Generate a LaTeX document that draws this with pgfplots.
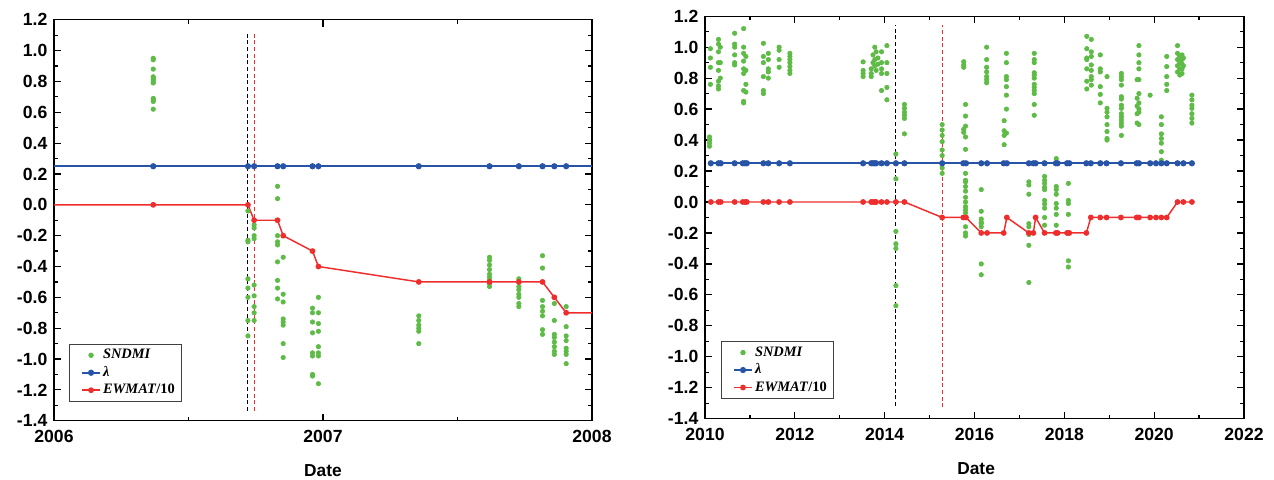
\documentclass[border=0pt]{standalone}
\usepackage{fontspec}
\setmainfont{Liberation Sans}
\newfontfamily\timesf{Liberation Serif}
\usepackage{pgfplots}
\pgfplotsset{compat=1.18}
\definecolor{cgreen}{RGB}{93,187,70}
\definecolor{cblue}{RGB}{40,84,168}
\definecolor{cred}{RGB}{238,45,45}
\pgfplotsset{
  mystyle/.style={
    scale only axis,
    ymin=-1.4, ymax=1.2,
    ytick={-1.4,-1.2,-1.0,-0.8,-0.6,-0.4,-0.2,0,0.2,0.4,0.6,0.8,1.0,1.2},
    minor y tick num=1, minor x tick num=1,
    tick align=inside,
    major tick length=5.25pt, minor tick length=3pt,
    axis line style={line width=1pt},
    every tick/.style={black, line width=0.9pt},
    tick label style={font=\bfseries\fontsize{13.2}{15}\selectfont},
    x tick label style={yshift=-3.5pt},
    y tick label style={xshift=-1.5pt},
    yticklabel style={/pgf/number format/.cd, fixed, fixed zerofill, precision=1, assume math mode=true},
    xticklabel style={/pgf/number format/.cd, 1000 sep={}, assume math mode=true},
    xlabel={Date},
    xlabel style={font=\bfseries\fontsize{13}{15}\selectfont, anchor=center},
    legend cell align=left,
    legend style={anchor=north west, draw=black!75, line width=0.6pt,
      font=\timesf\bfseries\fontsize{10.8}{12}\selectfont,
      inner xsep=3pt, inner ysep=1.8pt, row sep=0pt,
      nodes={text height=7.5pt, text depth=2pt, inner sep=1.8pt}},
    legend image code/.code={\path (0pt,0pt); \draw[##1, mark indices={2}] plot coordinates {(6pt,0pt) (12.5pt,0pt) (19pt,0pt)};},
    clip=true,
  }
}
\begin{document}
\begin{tikzpicture}
\useasboundingbox (0,0) rectangle (955.5pt,359.25pt);
% ---------------- panel (a)
\begin{axis}[mystyle, at={(40.5pt,43.7pt)}, anchor=south west,
  width=403.5pt, height=300.75pt,
  xmin=2006, xmax=2008, xtick={2006,2007,2008},
  xlabel style={at={(axis description cs:0.5,-0.125)}},
  legend style={at={(0.028,0.192)}}]
\addplot[black, line width=0.8pt, dash pattern=on 3pt off 2pt, forget plot] coordinates {(2006.721,-1.337) (2006.721,1.125)};
\addplot[cred, line width=0.8pt, dash pattern=on 3pt off 2pt, forget plot] coordinates {(2006.744,-1.337) (2006.744,1.125)};
\addplot[only marks, mark=*, mark size=1.7pt, mark options={draw=cgreen, fill=cgreen}] table[row sep=\\] {
x y\\
2006.369 0.95\\ 2006.369 0.94\\ 2006.369 0.88\\ 2006.369 0.83\\ 2006.369 0.82\\ 2006.369 0.81\\ 2006.369 0.80\\ 2006.369 0.79\\ 2006.369 0.69\\ 2006.369 0.68\\ 2006.369 0.67\\ 2006.369 0.62\\
2006.721 -0.04\\ 2006.721 -0.23\\ 2006.721 -0.24\\ 2006.721 -0.48\\ 2006.721 -0.54\\ 2006.721 -0.60\\ 2006.721 -0.75\\ 2006.721 -0.85\\
2006.744 -0.13\\ 2006.744 -0.15\\ 2006.744 -0.20\\ 2006.744 -0.22\\ 2006.744 -0.52\\ 2006.744 -0.59\\ 2006.744 -0.66\\ 2006.744 -0.70\\ 2006.744 -0.75\\
2006.831 0.12\\ 2006.831 0.04\\ 2006.831 -0.20\\ 2006.831 -0.24\\ 2006.831 -0.26\\ 2006.831 -0.37\\ 2006.831 -0.49\\ 2006.831 -0.54\\ 2006.831 -0.61\\
2006.852 -0.34\\ 2006.852 -0.58\\ 2006.852 -0.63\\ 2006.852 -0.74\\ 2006.852 -0.76\\ 2006.852 -0.78\\ 2006.852 -0.90\\ 2006.852 -0.99\\
2006.961 -0.67\\ 2006.961 -0.70\\ 2006.961 -0.76\\ 2006.961 -0.83\\ 2006.961 -0.96\\ 2006.961 -0.98\\ 2006.961 -1.10\\ 2006.961 -1.11\\
2006.983 -0.60\\ 2006.983 -0.70\\ 2006.983 -0.77\\ 2006.983 -0.82\\ 2006.983 -0.92\\ 2006.983 -0.96\\ 2006.983 -0.98\\ 2006.983 -1.16\\
2007.356 -0.72\\ 2007.356 -0.75\\ 2007.356 -0.78\\ 2007.356 -0.80\\ 2007.356 -0.82\\ 2007.356 -0.90\\
2007.619 -0.34\\ 2007.619 -0.36\\ 2007.619 -0.39\\ 2007.619 -0.42\\ 2007.619 -0.45\\ 2007.619 -0.47\\ 2007.619 -0.49\\ 2007.619 -0.51\\ 2007.619 -0.53\\
2007.728 -0.48\\ 2007.728 -0.50\\ 2007.728 -0.53\\ 2007.728 -0.55\\ 2007.728 -0.58\\ 2007.728 -0.60\\ 2007.728 -0.64\\ 2007.728 -0.66\\
2007.816 -0.33\\ 2007.816 -0.41\\ 2007.816 -0.62\\ 2007.816 -0.66\\ 2007.816 -0.69\\ 2007.816 -0.72\\ 2007.816 -0.81\\ 2007.816 -0.84\\
2007.860 -0.64\\ 2007.860 -0.75\\ 2007.860 -0.84\\ 2007.860 -0.86\\ 2007.860 -0.89\\ 2007.860 -0.92\\ 2007.860 -0.95\\ 2007.860 -0.97\\
2007.904 -0.66\\ 2007.904 -0.79\\ 2007.904 -0.85\\ 2007.904 -0.88\\ 2007.904 -0.93\\ 2007.904 -0.95\\ 2007.904 -0.97\\ 2007.904 -1.03\\
};
\addlegendentry{\itshape SNDMI}
\addplot[cblue, line width=1.4pt, mark=*, mark size=1.6pt, mark options={solid, fill=cblue, draw=cblue},
  mark indices={2,3,4,5,6,7,8,9,10,11,12,13,14}] coordinates {
(2006,0.25) (2006.369,0.25) (2006.721,0.25) (2006.744,0.25) (2006.831,0.25) (2006.852,0.25) (2006.961,0.25) (2006.983,0.25) (2007.356,0.25) (2007.619,0.25) (2007.728,0.25) (2007.816,0.25) (2007.860,0.25) (2007.904,0.25) (2008,0.25)};
\addlegendentry{\itshape λ}
\addplot[cred, line width=1.1pt, mark=*, mark size=1.6pt, mark options={solid, fill=cred, draw=cred},
  mark indices={2,3,4,5,6,7,8,9,10,11,12,13,14}] coordinates {
(2006,0) (2006.369,0) (2006.721,0) (2006.744,-0.1) (2006.831,-0.1) (2006.852,-0.2) (2006.961,-0.3) (2006.983,-0.4) (2007.356,-0.5) (2007.619,-0.5) (2007.728,-0.5) (2007.816,-0.5) (2007.860,-0.6) (2007.904,-0.7) (2008,-0.7)};
\addlegendentry{\textit{EWMAT}/10}
\node[font=\bfseries\fontsize{13}{15}\selectfont] at (axis description cs:0.983,-0.118) {(a)};
\end{axis}
% ---------------- panel (b)
\begin{axis}[mystyle, at={(528.75pt,45.2pt)}, anchor=south west,
  width=404.25pt, height=301.9pt,
  xmin=2010, xmax=2022, xtick={2010,2012,2014,2016,2018,2020,2022},
  xlabel style={at={(axis description cs:0.503,-0.123)}},
  legend style={at={(0.0297,0.193)}}]
\addplot[black, line width=0.8pt, dash pattern=on 3pt off 2pt, forget plot] coordinates {(2014.25,-1.318) (2014.25,1.143)};
\addplot[cred, line width=0.8pt, dash pattern=on 3pt off 2pt, forget plot] coordinates {(2015.28,-1.327) (2015.28,1.143)};
\addplot[only marks, mark=*, mark size=1.7pt, mark options={draw=cgreen, fill=cgreen}] table[row sep=\\] {
x y\\
2010.12 0.99\\ 2010.12 0.93\\ 2010.12 0.87\\ 2010.12 0.76\\
2010.10 0.42\\ 2010.10 0.40\\ 2010.10 0.38\\ 2010.10 0.36\\
2010.30 1.05\\ 2010.30 1.02\\ 2010.30 0.97\\ 2010.30 0.90\\ 2010.30 0.85\\ 2010.30 0.78\\ 2010.30 0.75\\ 2010.30 0.73\\
2010.34 1.00\\ 2010.34 0.90\\ 2010.34 0.80\\
2010.66 1.09\\ 2010.66 1.02\\ 2010.66 1.00\\ 2010.66 0.95\\ 2010.66 0.90\\ 2010.66 0.885\\
2010.86 1.12\\ 2010.86 1.00\\ 2010.86 0.96\\ 2010.86 0.91\\ 2010.86 0.86\\ 2010.86 0.83\\ 2010.86 0.72\\ 2010.86 0.65\\ 2010.86 0.64\\
2010.91 0.94\\ 2010.91 0.85\\ 2010.91 0.76\\ 2010.91 0.71\\
2011.30 1.025\\ 2011.30 0.94\\ 2011.30 0.90\\ 2011.30 0.81\\ 2011.30 0.72\\ 2011.30 0.70\\
2011.41 0.96\\ 2011.41 0.92\\ 2011.41 0.86\\ 2011.41 0.84\\ 2011.41 0.80\\
2011.65 1.00\\ 2011.65 0.98\\ 2011.65 0.92\\ 2011.65 0.87\\
2011.89 0.96\\ 2011.89 0.94\\ 2011.89 0.92\\ 2011.89 0.90\\ 2011.89 0.875\\ 2011.89 0.85\\ 2011.89 0.83\\
2013.52 0.905\\ 2013.52 0.85\\ 2013.52 0.83\\ 2013.52 0.81\\
2013.70 0.86\\ 2013.70 0.83\\ 2013.70 0.81\\
2013.74 0.95\\ 2013.74 0.90\\
2013.78 1.00\\ 2013.78 0.92\\ 2013.78 0.88\\
2013.81 0.97\\ 2013.81 0.85\\
2013.85 0.93\\ 2013.85 0.89\\
2013.93 0.97\\ 2013.93 0.90\\ 2013.93 0.86\\ 2013.93 0.83\\ 2013.93 0.72\\
2014.05 1.01\\ 2014.05 0.90\\ 2014.05 0.83\\ 2014.05 0.74\\ 2014.05 0.66\\
2014.25 0.31\\ 2014.25 0.15\\ 2014.25 0.00\\ 2014.25 -0.19\\ 2014.25 -0.27\\ 2014.25 -0.30\\ 2014.25 -0.54\\ 2014.25 -0.67\\
2014.44 0.63\\ 2014.44 0.605\\ 2014.44 0.58\\ 2014.44 0.56\\ 2014.44 0.54\\ 2014.44 0.44\\
2015.28 0.50\\ 2015.28 0.465\\ 2015.28 0.43\\ 2015.28 0.39\\ 2015.28 0.336\\ 2015.28 0.30\\ 2015.28 0.25\\ 2015.28 0.22\\ 2015.28 0.185\\
2015.76 0.906\\ 2015.76 0.885\\ 2015.76 0.87\\ 2015.76 0.47\\ 2015.76 0.45\\
2015.80 0.63\\ 2015.80 0.555\\ 2015.80 0.49\\ 2015.80 0.42\\ 2015.80 0.34\\ 2015.80 0.185\\ 2015.80 0.14\\ 2015.80 0.13\\ 2015.80 0.10\\ 2015.80 0.07\\ 2015.80 0.03\\ 2015.80 0.00\\ 2015.80 -0.03\\ 2015.80 -0.05\\ 2015.80 -0.07\\ 2015.80 -0.10\\ 2015.80 -0.16\\ 2015.80 -0.20\\ 2015.80 -0.22\\
2016.15 0.08\\ 2016.15 -0.06\\ 2016.15 -0.11\\ 2016.15 -0.13\\ 2016.15 -0.14\\ 2016.15 -0.16\\ 2016.15 -0.40\\ 2016.15 -0.47\\
2016.27 1.00\\ 2016.27 0.92\\ 2016.27 0.87\\ 2016.27 0.84\\ 2016.27 0.81\\ 2016.27 0.79\\ 2016.27 0.77\\
2016.66 0.525\\ 2016.66 0.46\\ 2016.66 0.43\\ 2016.66 0.37\\
2016.71 0.96\\ 2016.71 0.90\\ 2016.71 0.81\\ 2016.71 0.79\\ 2016.71 0.745\\ 2016.71 0.69\\ 2016.71 0.60\\ 2016.71 0.445\\
2017.21 0.13\\ 2017.21 0.11\\ 2017.21 0.05\\ 2017.21 -0.14\\ 2017.21 -0.16\\ 2017.21 -0.21\\ 2017.21 -0.28\\ 2017.21 -0.52\\
2017.33 0.96\\ 2017.33 0.92\\ 2017.33 0.90\\ 2017.33 0.835\\ 2017.33 0.82\\ 2017.33 0.80\\ 2017.33 0.76\\ 2017.33 0.74\\ 2017.33 0.72\\ 2017.33 0.70\\ 2017.33 0.63\\ 2017.33 0.56\\
2017.56 0.165\\ 2017.56 0.14\\ 2017.56 0.12\\ 2017.56 0.095\\ 2017.56 0.08\\ 2017.56 0.01\\ 2017.56 -0.013\\ 2017.56 -0.04\\ 2017.56 -0.10\\ 2017.56 -0.15\\
2017.82 0.28\\ 2017.82 0.10\\ 2017.82 0.08\\ 2017.82 0.05\\ 2017.82 -0.01\\ 2017.82 -0.04\\ 2017.82 -0.08\\ 2017.82 -0.15\\ 2017.82 -0.20\\
2018.09 0.12\\ 2018.09 0.01\\ 2018.09 -0.01\\ 2018.09 -0.08\\ 2018.09 -0.20\\ 2018.09 -0.38\\ 2018.09 -0.42\\
2018.50 1.07\\ 2018.50 0.99\\ 2018.50 0.93\\ 2018.50 0.92\\ 2018.50 0.86\\ 2018.50 0.78\\ 2018.50 0.73\\
2018.60 1.05\\ 2018.60 0.97\\ 2018.60 0.94\\ 2018.60 0.885\\ 2018.60 0.85\\ 2018.60 0.81\\ 2018.60 0.79\\ 2018.60 0.755\\
2018.80 0.95\\ 2018.80 0.86\\ 2018.80 0.84\\ 2018.80 0.745\\ 2018.80 0.695\\ 2018.80 0.64\\
2018.95 0.81\\ 2018.95 0.605\\ 2018.95 0.58\\ 2018.95 0.55\\ 2018.95 0.50\\ 2018.95 0.455\\ 2018.95 0.41\\ 2018.95 0.40\\
2019.27 0.83\\ 2019.27 0.81\\ 2019.27 0.79\\ 2019.27 0.755\\ 2019.27 0.68\\ 2019.27 0.665\\ 2019.27 0.625\\ 2019.27 0.605\\ 2019.27 0.57\\ 2019.27 0.55\\ 2019.27 0.53\\ 2019.27 0.51\\ 2019.27 0.49\\ 2019.27 0.43\\
2019.62 0.79\\ 2019.62 0.67\\ 2019.62 0.62\\ 2019.62 0.57\\ 2019.62 0.51\\
2019.66 1.01\\ 2019.66 0.95\\ 2019.66 0.90\\ 2019.66 0.86\\ 2019.66 0.79\\ 2019.66 0.70\\ 2019.66 0.64\\ 2019.66 0.60\\ 2019.66 0.58\\ 2019.66 0.50\\
2019.91 0.69\\
2020.16 0.55\\ 2020.16 0.50\\ 2020.16 0.44\\ 2020.16 0.41\\ 2020.16 0.38\\ 2020.16 0.325\\ 2020.16 0.27\\
2020.28 0.94\\ 2020.28 0.875\\ 2020.28 0.81\\ 2020.28 0.76\\ 2020.28 0.72\\
2020.52 1.01\\ 2020.52 0.96\\ 2020.52 0.92\\ 2020.52 0.88\\ 2020.52 0.84\\
2020.57 0.94\\ 2020.57 0.90\\ 2020.57 0.86\\ 2020.57 0.82\\
2020.62 0.95\\ 2020.62 0.92\\ 2020.62 0.89\\ 2020.62 0.86\\ 2020.62 0.83\\
2020.65 0.93\\ 2020.65 0.88\\
2020.84 0.69\\ 2020.84 0.66\\ 2020.84 0.625\\ 2020.84 0.605\\ 2020.84 0.57\\ 2020.84 0.54\\ 2020.84 0.51\\
};
\addlegendentry{\itshape SNDMI}
\addplot[cblue, line width=1.4pt, mark=*, mark size=1.6pt, mark options={solid, fill=cblue, draw=cblue}] table[row sep=\\] {
x y\\
2010.13 0.25\\ 2010.30 0.25\\ 2010.35 0.25\\ 2010.66 0.25\\ 2010.84 0.25\\ 2010.89 0.25\\ 2010.93 0.25\\ 2011.30 0.25\\ 2011.41 0.25\\ 2011.65 0.25\\ 2011.89 0.25\\
2013.52 0.25\\ 2013.70 0.25\\ 2013.74 0.25\\ 2013.78 0.25\\ 2013.81 0.25\\ 2013.93 0.25\\ 2014.05 0.25\\ 2014.25 0.25\\ 2014.44 0.25\\
2015.28 0.25\\ 2015.75 0.25\\ 2015.81 0.25\\ 2016.15 0.25\\ 2016.28 0.25\\ 2016.65 0.25\\ 2016.72 0.25\\ 2017.21 0.25\\ 2017.31 0.25\\ 2017.36 0.25\\
2017.56 0.25\\ 2017.81 0.25\\ 2017.85 0.25\\ 2018.06 0.25\\ 2018.11 0.25\\ 2018.49 0.25\\ 2018.59 0.25\\ 2018.80 0.25\\ 2018.94 0.25\\ 2019.26 0.25\\
2019.61 0.25\\ 2019.66 0.25\\ 2019.91 0.25\\ 2020.04 0.25\\ 2020.16 0.25\\ 2020.28 0.25\\ 2020.52 0.25\\ 2020.65 0.25\\ 2020.84 0.25\\
};
\addlegendentry{\itshape λ}
\addplot[cred, line width=1.1pt, mark=*, mark size=1.6pt, mark options={solid, fill=cred, draw=cred}] table[row sep=\\] {
x y\\
2010.13 0\\ 2010.30 0\\ 2010.35 0\\ 2010.66 0\\ 2010.84 0\\ 2010.89 0\\ 2010.93 0\\ 2011.30 0\\ 2011.41 0\\ 2011.65 0\\ 2011.89 0\\
2013.52 0\\ 2013.70 0\\ 2013.74 0\\ 2013.78 0\\ 2013.81 0\\ 2013.93 0\\ 2014.05 0\\ 2014.25 0\\ 2014.44 0\\
2015.28 -0.1\\ 2015.75 -0.1\\ 2015.81 -0.1\\ 2016.15 -0.2\\ 2016.28 -0.2\\ 2016.65 -0.2\\ 2016.72 -0.1\\ 2017.21 -0.2\\ 2017.31 -0.2\\ 2017.36 -0.1\\
2017.56 -0.2\\ 2017.81 -0.2\\ 2017.85 -0.2\\ 2018.06 -0.2\\ 2018.11 -0.2\\ 2018.49 -0.2\\ 2018.59 -0.1\\ 2018.80 -0.1\\ 2018.94 -0.1\\ 2019.26 -0.1\\
2019.61 -0.1\\ 2019.66 -0.1\\ 2019.91 -0.1\\ 2020.04 -0.1\\ 2020.16 -0.1\\ 2020.28 -0.1\\ 2020.52 0\\ 2020.65 0\\ 2020.84 0\\
};
\addlegendentry{\textit{EWMAT}/10}
\node[font=\bfseries\fontsize{13}{15}\selectfont] at (axis description cs:0.985,-0.115) {(b)};
\end{axis}
\end{tikzpicture}
\end{document}
